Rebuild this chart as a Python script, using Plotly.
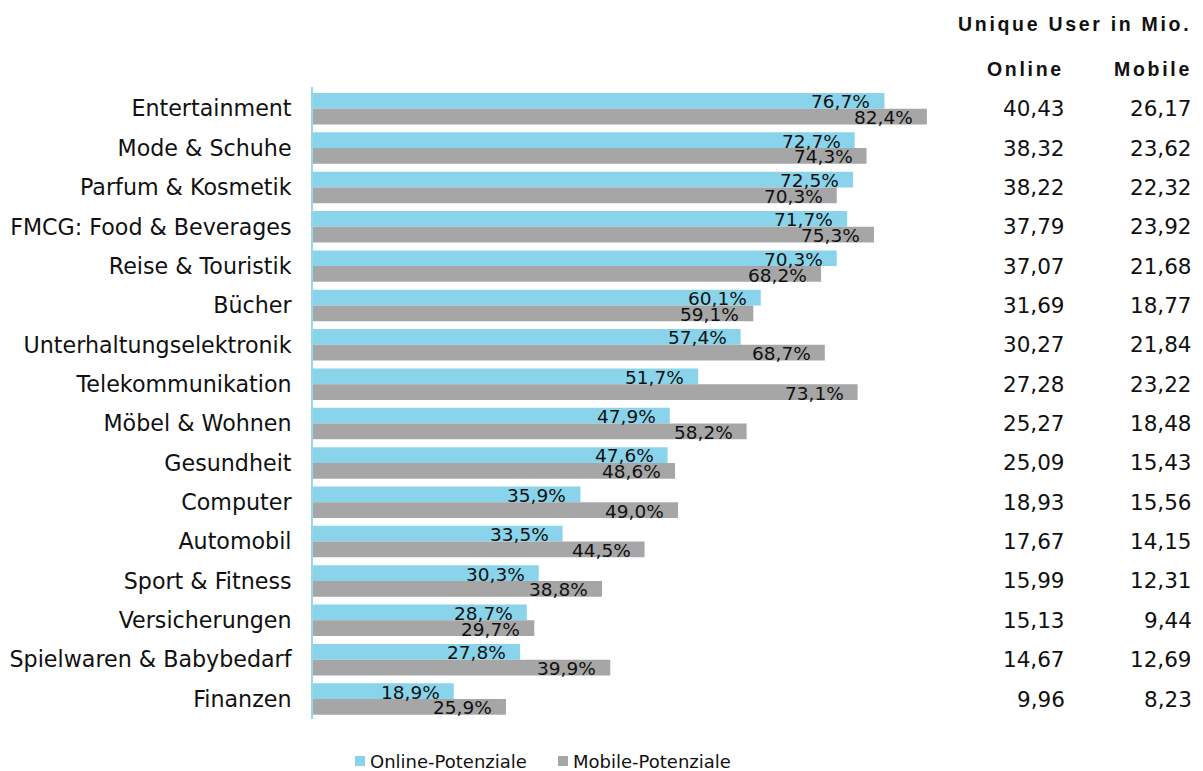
import plotly.graph_objects as go

# Branches, top to bottom
categories = [
    "Entertainment", "Mode & Schuhe", "Parfum & Kosmetik", "FMCG: Food & Beverages",
    "Reise & Touristik", "Bücher", "Unterhaltungselektronik", "Telekommunikation",
    "Möbel & Wohnen", "Gesundheit", "Computer", "Automobil", "Sport & Fitness",
    "Versicherungen", "Spielwaren & Babybedarf", "Finanzen",
]
# Reach potential in percent
online_pct = [76.7, 72.7, 72.5, 71.7, 70.3, 60.1, 57.4, 51.7, 47.9, 47.6, 35.9, 33.5, 30.3, 28.7, 27.8, 18.9]
mobile_pct = [82.4, 74.3, 70.3, 75.3, 68.2, 59.1, 68.7, 73.1, 58.2, 48.6, 49.0, 44.5, 38.8, 29.7, 39.9, 25.9]
# Unique users in millions
online_users = [40.43, 38.32, 38.22, 37.79, 37.07, 31.69, 30.27, 27.28, 25.27, 25.09, 18.93, 17.67, 15.99, 15.13, 14.67, 9.96]
mobile_users = [26.17, 23.62, 22.32, 23.92, 21.68, 18.77, 21.84, 23.22, 18.48, 15.43, 15.56, 14.15, 12.31, 9.44, 12.69, 8.23]

series_names = ["Online-Potenziale", "Mobile-Potenziale"]
header_title = "Unique User in Mio."
column_titles = ["Online", "Mobile"]

W, H = 1203, 771
BLUE = "#89D4EA"
GREY = "#A6A6A6"
TXT = "#111111"
FONT = "DejaVu Sans"


def de(v, nd):
    return f"{v:.{nd}f}".replace(".", ",")


def px_x(p):
    return p / W


def px_y(p):
    return 1 - p / H


fig = go.Figure()
fig.add_trace(go.Bar(y=categories, x=online_pct, orientation="h", name=series_names[0],
                     marker=dict(color=BLUE, line_width=0), showlegend=False))
fig.add_trace(go.Bar(y=categories, x=mobile_pct, orientation="h", name=series_names[1],
                     marker=dict(color=GREY, line_width=0), showlegend=False))

annotations = []
half = 7.9  # half a bar height in px
for cat, o, m in zip(categories, online_pct, mobile_pct):
    annotations.append(dict(x=o, y=cat, xref="x", yref="y", text=de(o, 1) + "%", showarrow=False,
                            xanchor="right", yanchor="middle", xshift=-12, yshift=half - 1,
                            font=dict(family=FONT, size=18.5, color=TXT)))
    annotations.append(dict(x=m, y=cat, xref="x", yref="y", text=de(m, 1) + "%", showarrow=False,
                            xanchor="right", yanchor="middle", xshift=-12, yshift=-half - 1,
                            font=dict(family=FONT, size=18.5, color=TXT)))

# user table on the right
for cat, ou, mu in zip(categories, online_users, mobile_users):
    annotations.append(dict(x=px_x(1067), y=cat, xref="paper", yref="y", text=de(ou, 2),
                            showarrow=False, xanchor="right", yanchor="middle",
                            font=dict(family=FONT, size=21.5, color=TXT)))
    annotations.append(dict(x=px_x(1194), y=cat, xref="paper", yref="y", text=de(mu, 2),
                            showarrow=False, xanchor="right", yanchor="middle",
                            font=dict(family=FONT, size=21.5, color=TXT)))

spaced = '<span style="letter-spacing:2.7px">{}</span>'
annotations.append(dict(x=px_x(1193), y=px_y(24), xref="paper", yref="paper",
                        text="<b>" + spaced.format(header_title) + "</b>", showarrow=False,
                        xanchor="right", yanchor="middle",
                        font=dict(family="Liberation Sans", size=19.5, color=TXT)))
annotations.append(dict(x=px_x(1066), y=px_y(69), xref="paper", yref="paper",
                        text="<b>" + spaced.format(column_titles[0]) + "</b>", showarrow=False,
                        xanchor="right", yanchor="middle",
                        font=dict(family="Liberation Sans", size=19.5, color=TXT)))
annotations.append(dict(x=px_x(1194), y=px_y(69), xref="paper", yref="paper",
                        text="<b>" + spaced.format(column_titles[1]) + "</b>", showarrow=False,
                        xanchor="right", yanchor="middle",
                        font=dict(family="Liberation Sans", size=19.5, color=TXT)))

# legend drawn as swatches + labels
shapes = []
legend_items = [(355, BLUE, series_names[0]), (558, GREY, series_names[1])]
for x0, col, name in legend_items:
    shapes.append(dict(type="rect", xref="paper", yref="paper", x0=px_x(x0), x1=px_x(x0 + 10),
                       y0=px_y(766), y1=px_y(756), fillcolor=col, line_width=0))
    annotations.append(dict(x=px_x(x0 + 13), y=px_y(761), xref="paper", yref="paper", text=name,
                            showarrow=False, xanchor="left", yanchor="middle",
                            font=dict(family=FONT, size=18, color=TXT)))

fig.update_layout(
    width=W, height=H,
    margin=dict(l=0, r=0, t=0, b=0),
    paper_bgcolor="white", plot_bgcolor="white",
    barmode="group", bargap=0.2, bargroupgap=0,
    annotations=annotations, shapes=shapes,
    showlegend=False,
    xaxis=dict(domain=[px_x(313), px_x(1058)], range=[0, 100], showgrid=False, zeroline=False,
               showticklabels=False, showline=False, fixedrange=True),
    yaxis=dict(domain=[px_y(718.7), px_y(87.3)], autorange="reversed", showgrid=False,
               showline=True, linecolor="#9AD6EA", linewidth=2, ticks="",
               ticklabelstandoff=15,
               tickfont=dict(family=FONT, size=22.2, color=TXT)),
)

fig.write_html("out.html")
